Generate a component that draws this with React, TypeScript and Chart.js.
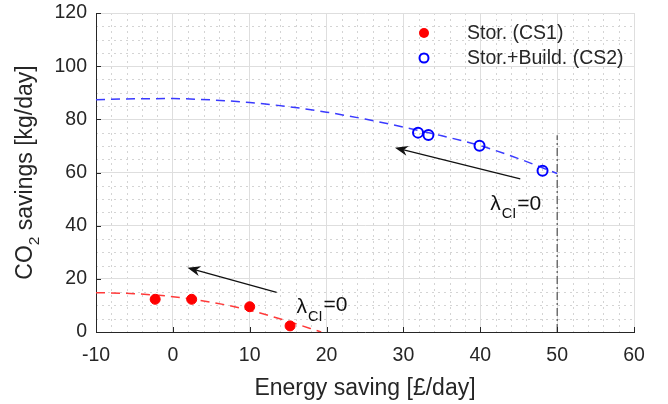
import React, { useEffect, useRef } from "react";
import { Chart, registerables } from "chart.js";

Chart.register(...registerables);

const FONT = '"Liberation Sans", Arial, Helvetica, sans-serif';
const TEXT = "#262626";

// Storage only (CS1): energy saving [£/day] vs CO2 saving [kg/day]
const cs1Energy = [-2.3, 2.45, 10.0, 15.25];
const cs1Co2 = [12.3, 12.3, 9.5, 2.3];

// Storage + building (CS2)
const cs2Energy = [31.9, 33.25, 39.9, 48.1];
const cs2Co2 = [75.0, 74.1, 70.1, 60.7];

// Trade-off fronts
const cs1FrontEnergy = [-10, -5, 0, 5, 10, 15, 19.3];
const cs1FrontCo2 = [14.8, 14.4, 13.3, 11.2, 8.2, 4.0, 0];
const cs2FrontEnergy = [-10, -5, 0, 5, 10, 15, 20, 25, 30, 35, 40, 45, 50];
const cs2FrontCo2 = [87.4, 87.7, 87.8, 87.3, 86.3, 84.8, 82.7, 80.1, 77.1, 73.8, 70.1, 65.2, 59.6];

// Upper limit on the energy saving
const limitEnergy = [50, 50];
const limitCo2 = [0, 74];

// Axis ticks
const xTickValues = [-10, 0, 10, 20, 30, 40, 50, 60];
const yTickValues = [0, 20, 40, 60, 80, 100, 120];
const xMinorStep = 2;
const yMinorStep = 5;

// Direction arrows (tail -> head) and the λ_CI = 0 annotations
const arrowTailEnergy = [45.2, 13.5];
const arrowTailCo2 = [57.6, 14.9];
const arrowHeadEnergy = [28.9, 1.9];
const arrowHeadCo2 = [69.3, 24.2];
const lambdaEnergy = [41.3, 16.1];
const lambdaCo2 = [45.9, 7.1];
const lambdaRaise = [0, 2];

const legendLabels = ["Stor. (CS1)", "Stor.+Build. (CS2)"];

const pts = (xs: number[], ys: number[]) => xs.map((x, i) => ({ x, y: ys[i] }));

const decorations = {
  id: "decorations",
  beforeDraw(chart: any) {
    const { ctx, chartArea: a, scales } = chart;
    const xs = scales.x;
    const ys = scales.y;
    ctx.save();
    ctx.fillStyle = "#ffffff";
    ctx.fillRect(0, 0, chart.width, chart.height);
    // minor grid
    ctx.strokeStyle = "#d4d4d4";
    ctx.lineWidth = 1;
    ctx.setLineDash([2, 4]);
    for (let v = xs.min; v <= xs.max; v += xMinorStep) {
      if (xTickValues.includes(v)) continue;
      const px = Math.round(xs.getPixelForValue(v)) + 0.5;
      ctx.beginPath();
      ctx.moveTo(px, a.top);
      ctx.lineTo(px, a.bottom);
      ctx.stroke();
    }
    for (let v = ys.min; v <= ys.max; v += yMinorStep) {
      if (yTickValues.includes(v)) continue;
      const py = Math.round(ys.getPixelForValue(v)) + 0.5;
      ctx.beginPath();
      ctx.moveTo(a.left, py);
      ctx.lineTo(a.right, py);
      ctx.stroke();
    }
    ctx.restore();
  },
  afterDraw(chart: any) {
    const { ctx, chartArea: a, scales } = chart;
    const xs = scales.x;
    const ys = scales.y;
    ctx.save();

    // inward tick marks
    ctx.strokeStyle = TEXT;
    ctx.lineWidth = 1;
    ctx.setLineDash([]);
    xTickValues.forEach((v) => {
      const px = Math.round(xs.getPixelForValue(v)) + 0.5;
      ctx.beginPath();
      ctx.moveTo(px, a.bottom);
      ctx.lineTo(px, a.bottom - 5);
      ctx.stroke();
    });
    yTickValues.forEach((v) => {
      const py = Math.round(ys.getPixelForValue(v)) + 0.5;
      ctx.beginPath();
      ctx.moveTo(a.left, py);
      ctx.lineTo(a.left + 5, py);
      ctx.stroke();
    });

    // arrows
    arrowTailEnergy.forEach((_, i) => {
      const x1 = xs.getPixelForValue(arrowTailEnergy[i]);
      const y1 = ys.getPixelForValue(arrowTailCo2[i]);
      const x2 = xs.getPixelForValue(arrowHeadEnergy[i]);
      const y2 = ys.getPixelForValue(arrowHeadCo2[i]);
      const ang = Math.atan2(y2 - y1, x2 - x1);
      const len = 13;
      const half = 5;
      const notch = 9;
      ctx.strokeStyle = "#111";
      ctx.fillStyle = "#111";
      ctx.lineWidth = 1.3;
      ctx.beginPath();
      ctx.moveTo(x1, y1);
      ctx.lineTo(x2 - Math.cos(ang) * notch, y2 - Math.sin(ang) * notch);
      ctx.stroke();
      ctx.save();
      ctx.translate(x2, y2);
      ctx.rotate(ang);
      ctx.beginPath();
      ctx.moveTo(0, 0);
      ctx.lineTo(-len, -half);
      ctx.lineTo(-notch, 0);
      ctx.lineTo(-len, half);
      ctx.closePath();
      ctx.fill();
      ctx.restore();
    });

    // λ_CI = 0 labels
    ctx.fillStyle = "#111";
    ctx.textBaseline = "alphabetic";
    ctx.textAlign = "left";
    lambdaEnergy.forEach((_, i) => {
      let x = xs.getPixelForValue(lambdaEnergy[i]);
      const y = ys.getPixelForValue(lambdaCo2[i]);
      ctx.font = `21px ${FONT}`;
      ctx.fillText("λ", x, y);
      x += ctx.measureText("λ").width + 1;
      ctx.font = `14.5px ${FONT}`;
      ctx.fillText("CI", x, y + 8);
      x += ctx.measureText("CI").width + 1;
      ctx.font = `21px ${FONT}`;
      ctx.fillText("=0", x, y - lambdaRaise[i]);
    });

    // legend
    const legendX = 424;
    const legendY = [33, 58];
    ctx.font = `19.5px ${FONT}`;
    ctx.textBaseline = "middle";
    legendLabels.forEach((label, i) => {
      ctx.fillStyle = TEXT;
      ctx.fillText(label, 467, legendY[i] + 1);
    });
    ctx.fillStyle = "#ff0000";
    ctx.beginPath();
    ctx.arc(legendX, legendY[0], 5, 0, Math.PI * 2);
    ctx.fill();
    ctx.strokeStyle = "#0000ff";
    ctx.lineWidth = 2;
    ctx.beginPath();
    ctx.arc(legendX, legendY[1], 4.5, 0, Math.PI * 2);
    ctx.stroke();

    // axis titles
    ctx.fillStyle = TEXT;
    ctx.textBaseline = "alphabetic";
    ctx.textAlign = "center";
    ctx.font = `23px ${FONT}`;
    ctx.fillText("Energy saving [£/day]", (a.left + a.right) / 2, 395);

    ctx.save();
    ctx.translate(32, (a.top + a.bottom) / 2);
    ctx.rotate(-Math.PI / 2);
    ctx.textAlign = "left";
    const main = `23px ${FONT}`;
    const sub = `15.5px ${FONT}`;
    ctx.font = main;
    const wCO = ctx.measureText("CO").width;
    const wRest = ctx.measureText(" savings [kg/day]").width;
    ctx.font = sub;
    const w2 = ctx.measureText("2").width;
    let tx = -(wCO + w2 + wRest) / 2;
    ctx.font = main;
    ctx.fillText("CO", tx, 0);
    tx += wCO;
    ctx.font = sub;
    ctx.fillText("2", tx, 7);
    tx += w2;
    ctx.font = main;
    ctx.fillText(" savings [kg/day]", tx, 0);
    ctx.restore();

    ctx.restore();
  },
};

export default function App() {
  const ref = useRef<HTMLCanvasElement>(null);

  useEffect(() => {
    const chart = new Chart(ref.current as HTMLCanvasElement, {
      type: "line",
      data: {
        datasets: [
          {
            label: legendLabels[0],
            data: pts(cs1Energy, cs1Co2),
            showLine: false,
            pointRadius: 5,
            pointBackgroundColor: "#ff0000",
            pointBorderColor: "#ff0000",
            pointBorderWidth: 1,
            order: 0,
          },
          {
            label: legendLabels[1],
            data: pts(cs2Energy, cs2Co2),
            showLine: false,
            pointRadius: 5,
            pointBackgroundColor: "rgba(0,0,0,0)",
            pointBorderColor: "#0000ff",
            pointBorderWidth: 2,
            order: 0,
          },
          {
            label: "CS1 front",
            data: pts(cs1FrontEnergy, cs1FrontCo2),
            borderColor: "#ff3a3a",
            borderWidth: 1.5,
            borderDash: [9, 6],
            pointRadius: 0,
            cubicInterpolationMode: "monotone",
            fill: false,
            order: 1,
          },
          {
            label: "CS2 front",
            data: pts(cs2FrontEnergy, cs2FrontCo2),
            borderColor: "#3a3aff",
            borderWidth: 1.5,
            borderDash: [9, 6],
            pointRadius: 0,
            cubicInterpolationMode: "monotone",
            fill: false,
            order: 1,
          },
          {
            label: "limit",
            data: pts(limitEnergy, limitCo2),
            borderColor: "#333333",
            borderWidth: 1,
            borderDash: [8, 3, 2, 3],
            pointRadius: 0,
            fill: false,
            order: 2,
          },
        ],
      },
      options: {
        animation: false,
        responsive: false,
        devicePixelRatio: 1,
        events: [],
        layout: { padding: { left: 0, right: 34, top: 13, bottom: 0 } },
        plugins: {
          legend: { display: false },
          tooltip: { enabled: false },
          title: { display: false },
        },
        scales: {
          x: {
            type: "linear",
            min: -10,
            max: 60,
            afterBuildTicks: (s: any) => {
              s.ticks = xTickValues.map((value) => ({ value }));
            },
            afterFit: (s: any) => {
              s.height = 72;
              s.paddingLeft = 0;
              s.paddingRight = 0;
            },
            ticks: {
              font: { family: FONT, size: 19.5 },
              color: TEXT,
              padding: 12,
              maxRotation: 0,
              autoSkip: false,
              callback: (v: any) => String(v),
            },
            grid: { color: "#dedede", lineWidth: 1, drawTicks: false },
            border: { color: TEXT, width: 1 },
          },
          y: {
            type: "linear",
            min: 0,
            max: 120,
            afterBuildTicks: (s: any) => {
              s.ticks = yTickValues.map((value) => ({ value }));
            },
            afterFit: (s: any) => {
              s.width = 96;
              s.paddingTop = 0;
              s.paddingBottom = 0;
            },
            ticks: {
              font: { family: FONT, size: 19.5 },
              color: TEXT,
              padding: 9,
              autoSkip: false,
              callback: (v: any) => String(v),
            },
            grid: { color: "#dedede", lineWidth: 1, drawTicks: false },
            border: { color: TEXT, width: 1 },
          },
        },
      },
      plugins: [decorations],
    } as any);
    return () => chart.destroy();
  }, []);

  return (
    <div style={{ position: "fixed", left: 0, top: 0, width: 668, height: 404, background: "#fff" }}>
      <canvas ref={ref} width={668} height={404} style={{ display: "block", width: 668, height: 404 }} />
    </div>
  );
}
